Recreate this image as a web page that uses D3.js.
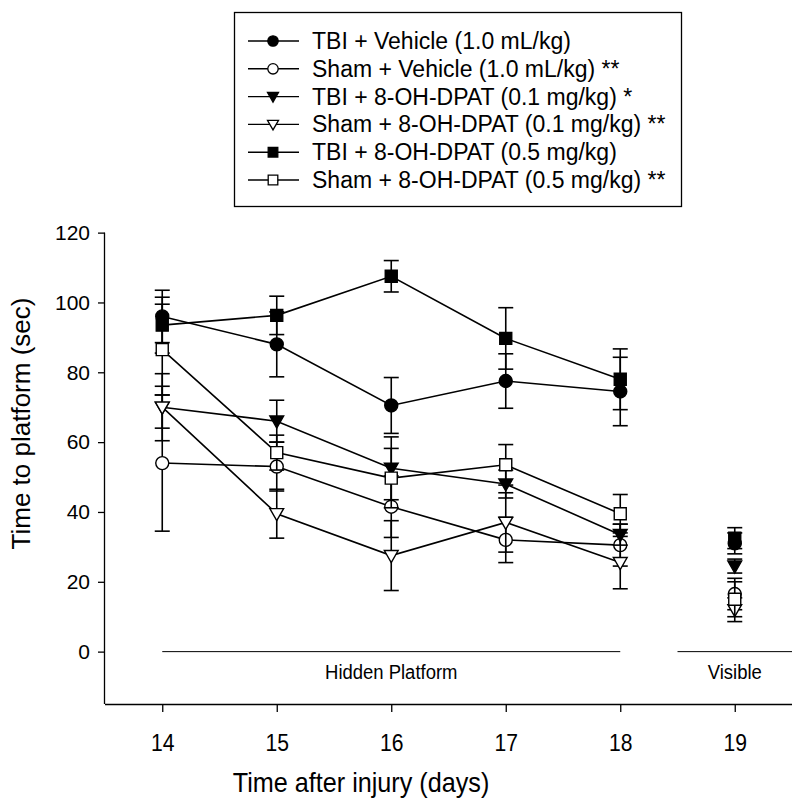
<!DOCTYPE html>
<html><head><meta charset="utf-8">
<script src="https://cdn.jsdelivr.net/npm/d3@7"></script>
<style>body{margin:0;background:#fff}svg{display:block}</style>
</head><body>
<svg id="c" width="800" height="812"></svg>
<script>
const days = [14, 15, 16, 17, 18, 19];
const seriesNames = [
  "TBI + Vehicle (1.0 mL/kg)",
  "Sham + Vehicle (1.0 mL/kg) **",
  "TBI + 8-OH-DPAT (0.1 mg/kg) *",
  "Sham + 8-OH-DPAT (0.1 mg/kg) **",
  "TBI + 8-OH-DPAT (0.5 mg/kg)",
  "Sham + 8-OH-DPAT (0.5 mg/kg) **"
];
const tbiVeh     = [96, 88, 70.5, 77.5, 74.5, 31];
const tbiVehErr  = [7.5, 9.3, 8, 7.8, 9.8, 3];
const shamVeh    = [54, 53, 41.5, 32, 30.5, 16.5];
const shamVehErr = [19.5, 7, 8.8, 6.5, 6, 4.5];
const tbi01      = [70, 66, 52.5, 48, 33.5, 24.5];
const tbi01Err   = [9.6, 6, 9, 4, 3, 2];
const sham01     = [70, 39.5, 27.5, 37, 25.5, 12];
const sham01Err  = [6, 7, 10, 8.5, 7.5, 3.4];
const tbi05      = [93.5, 96.3, 107.5, 89.7, 78, 32.5];
const tbi05Err   = [8, 5.5, 4.5, 8.8, 8.7, 3];
const sham05     = [86.5, 57, 49.7, 53.5, 39.5, 15];
const sham05Err  = [13, 5, 8.5, 5.8, 5.5, 5];
const yTicks = [0, 20, 40, 60, 80, 100, 120];
const xTicks = [14, 15, 16, 17, 18, 19];
const phaseLabels = ["Hidden Platform", "Visible"];

const means = [tbiVeh, shamVeh, tbi01, sham01, tbi05, sham05];
const errs = [tbiVehErr, shamVehErr, tbi01Err, sham01Err, tbi05Err, sham05Err];
const shapes = ["circle", "circle", "tri", "tri", "square", "square"];
const filled = [true, false, true, false, true, false];

const FONT = "Liberation Sans, Arial, sans-serif";
const svg = d3.select("#c");
const L = 105, R = 792, T = 233, B = 704;
const x = d3.scaleLinear().domain([13.5, 19.5]).range([L, R]);
const y = d3.scaleLinear().domain([-15, 120]).range([B, B - (135 * 419 / 120)]);

function symPath(shape, s) {
  if (shape === "circle") return d3.symbol().type(d3.symbolCircle).size(Math.PI * s * s)();
  if (shape === "square") return `M${-s},${-s}H${s}V${s}H${-s}Z`;
  const w = s * 1.15;
  return `M${-w},${-s*0.85}H${w}L0,${s*1.15}Z`;
}

// axes
const yAxis = d3.axisLeft(y).tickValues(yTicks).tickSize(7).tickPadding(8);
const gy = svg.append("g").attr("transform", `translate(${L},0)`).call(yAxis);
gy.select(".domain").attr("d", `M-0.5,${y(120)}V${B}`).attr("stroke", "#000").attr("stroke-width", 1.3);
gy.selectAll(".tick line").attr("stroke", "#000").attr("stroke-width", 1.3);
gy.selectAll(".tick text").attr("font-family", FONT).attr("font-size", 21).attr("fill", "#000");

const xAxis = d3.axisBottom(x).tickValues(xTicks).tickFormat(d3.format("d")).tickSize(8).tickPadding(22);
const gx = svg.append("g").attr("transform", `translate(0,${B})`).call(xAxis);
gx.select(".domain").attr("d", `M${L},0.5H${R}`).attr("stroke", "#000").attr("stroke-width", 1.3);
gx.selectAll(".tick line").attr("stroke", "#000").attr("stroke-width", 1.3);
gx.selectAll(".tick text").attr("font-family", FONT).attr("font-size", 24).attr("fill", "#000")
  .attr("transform", "scale(0.88,1)");

svg.append("text").attr("transform", `translate(361,792) scale(0.9,1)`).attr("text-anchor", "middle")
  .attr("font-family", FONT).attr("font-size", 28)
  .text("Time after injury (days)");
svg.append("text").attr("transform", `translate(30,${(T + B) / 2 - 45}) rotate(-90)`).attr("text-anchor", "middle")
  .attr("font-family", FONT).attr("font-size", 26)
  .text("Time to platform (sec)");

// phase lines
svg.append("line").attr("x1", x(14)).attr("x2", x(18)).attr("y1", y(0)).attr("y2", y(0)).attr("stroke", "#000").attr("stroke-width", 1);
svg.append("line").attr("x1", x(18.5)).attr("x2", x(19.5)).attr("y1", y(0)).attr("y2", y(0)).attr("stroke", "#000").attr("stroke-width", 1);
svg.append("text").attr("transform", `translate(${x(16)},${y(0) + 27}) scale(0.88,1)`).attr("text-anchor", "middle")
  .attr("font-family", FONT).attr("font-size", 21).text(phaseLabels[0]);
svg.append("text").attr("transform", `translate(${x(19)},${y(0) + 27}) scale(0.88,1)`).attr("text-anchor", "middle")
  .attr("font-family", FONT).attr("font-size", 21).text(phaseLabels[1]);

// lines
const line = d3.line().x((d, i) => x(days[i])).y(d => y(d));
means.forEach(m => {
  svg.append("path").attr("d", line(m.slice(0, 5))).attr("fill", "none").attr("stroke", "#000").attr("stroke-width", 1.6);
});
// error bars + markers
means.forEach((m, si) => {
  const g = svg.append("g");
  m.forEach((v, i) => {
    const e = errs[si][i], cx = x(days[i]);
    g.append("line").attr("x1", cx).attr("x2", cx).attr("y1", y(v - e)).attr("y2", y(v + e)).attr("stroke", "#000").attr("stroke-width", 1.6);
    [v - e, v + e].forEach(t => g.append("line").attr("x1", cx - 7.5).attr("x2", cx + 7.5).attr("y1", y(t)).attr("y2", y(t)).attr("stroke", "#000").attr("stroke-width", 1.6));
  });
  m.forEach((v, i) => {
    g.append("path").attr("d", symPath(shapes[si], shapes[si] === "circle" ? 6.5 : 6))
      .attr("transform", `translate(${x(days[i])},${y(v)})`)
      .attr("fill", filled[si] ? "#000" : "#fff").attr("stroke", "#000").attr("stroke-width", 1.4);
  });
});

// legend
const lg = svg.append("g");
lg.append("rect").attr("x", 234.5).attr("y", 12.5).attr("width", 447).attr("height", 194).attr("fill", "#fff").attr("stroke", "#000").attr("stroke-width", 1.3);
seriesNames.forEach((nm, i) => {
  const ry = 41 + i * 27.8;
  lg.append("line").attr("x1", 248).attr("x2", 299).attr("y1", ry).attr("y2", ry).attr("stroke", "#000").attr("stroke-width", 1.4);
  lg.append("path").attr("d", symPath(shapes[i], shapes[i] === "circle" ? 5.2 : 4.8))
    .attr("transform", `translate(273,${ry})`).attr("fill", filled[i] ? "#000" : "#fff").attr("stroke", "#000").attr("stroke-width", 1.3);
  lg.append("text").attr("x", 312).attr("y", ry + 8).attr("font-family", FONT).attr("font-size", 23).text(nm);
});
</script>
</body></html>
